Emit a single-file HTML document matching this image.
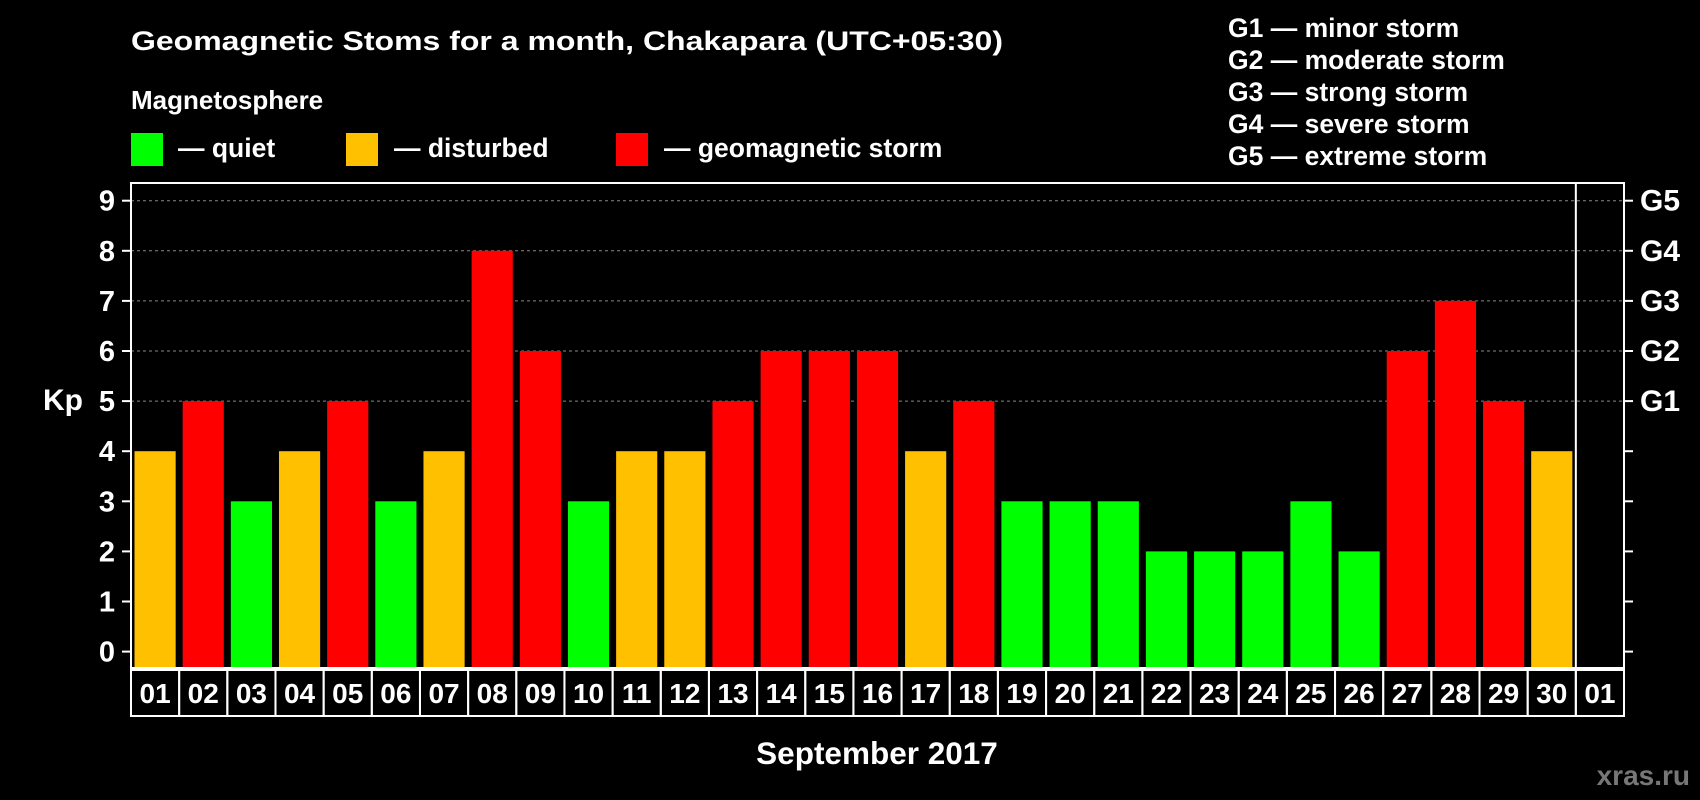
<!DOCTYPE html>
<html><head><meta charset="utf-8"><style>
html,body{margin:0;padding:0;background:#000;}
svg{display:block;font-family:"Liberation Sans",Arial,sans-serif;font-weight:bold;}
</style></head><body>
<svg id="chart" width="1700" height="800" xmlns="http://www.w3.org/2000/svg">
<rect x="0" y="0" width="1700" height="800" fill="#000"/>
<text x="131" y="50" fill="#fff" font-size="27" textLength="872" lengthAdjust="spacingAndGlyphs">Geomagnetic Stoms for a month, Chakapara (UTC+05:30)</text>
<text x="131" y="109" fill="#fff" font-size="26">Magnetosphere</text>
<rect x="131" y="133" width="32" height="33" fill="#00ff00"/>
<text x="178" y="157" fill="#fff" font-size="26.5">— quiet</text>
<rect x="346" y="133" width="32" height="33" fill="#ffc000"/>
<text x="394" y="157" fill="#fff" font-size="26.5">— disturbed</text>
<rect x="616" y="133" width="32" height="33" fill="#ff0000"/>
<text x="664" y="157" fill="#fff" font-size="26.5">— geomagnetic storm</text>
<g fill="#fff" font-size="26.5">
<text x="1228" y="37">G1 — minor storm</text>
<text x="1228" y="69">G2 — moderate storm</text>
<text x="1228" y="101">G3 — strong storm</text>
<text x="1228" y="133">G4 — severe storm</text>
<text x="1228" y="165">G5 — extreme storm</text>
</g>
<text x="43" y="410" fill="#fff" font-size="30">Kp</text>
<text x="877" y="764" fill="#fff" font-size="31.5" text-anchor="middle">September 2017</text>
<text x="1690" y="785" fill="#777" font-size="28" text-anchor="end">xras.ru</text>
<g id="plot"></g>
</svg>
<script>
const days=["01","02","03","04","05","06","07","08","09","10","11","12","13","14","15","16","17","18","19","20","21","22","23","24","25","26","27","28","29","30","01"];
const kp=[4,5,3,4,5,3,4,8,6,3,4,4,5,6,6,6,4,5,3,3,3,2,2,2,3,2,6,7,5,4];
const yTicks=[0,1,2,3,4,5,6,7,8,9];
const gLabels=["","","","","","G1","G2","G3","G4","G5"];
const L=131,R=1624,T=183,B=668,N=31,cw=(R-L)/N;
const y=v=>651.6-v*50.1;
const x=i=>L+i*cw;
const NS="http://www.w3.org/2000/svg";
const g=document.getElementById('plot');
function mk(tag,attrs){const e=document.createElementNS(NS,tag);for(const k in attrs)e.setAttribute(k,attrs[k]);g.appendChild(e);return e;}
yTicks.forEach(v=>{
  if(v>=5){const l=mk('line',{x1:L,x2:R,y1:y(v),y2:y(v),stroke:'#888','stroke-dasharray':'3,3','stroke-width':1});
  
  }
  const t=mk('text',{x:115,y:y(v)+10,fill:'#fff','font-size':29,'text-anchor':'end'});t.textContent=v;
  
  
  const tk=mk('line',{x1:R,x2:R+9,y1:y(v),y2:y(v),stroke:'#fff','stroke-width':2});
  
  
  const tl=mk('line',{x1:L-9,x2:L,y1:y(v),y2:y(v),stroke:'#fff','stroke-width':2});
  
  
  if(gLabels[v]){const gt=mk('text',{x:1640,y:y(v)+10,fill:'#fff','font-size':30});gt.textContent=gLabels[v];
  
  }
});
kp.forEach((v,i)=>{
  const c=v<=3?'#00ff00':(v==4?'#ffc000':'#ff0000');
  const b=mk('rect',{x:x(i)+3.5,y:y(v),width:cw-7,height:y(0)-y(v)+16,fill:c});
  
  
});
const fr=mk('rect',{x:L,y:T,width:R-L,height:B-T,fill:'none',stroke:'#fff','stroke-width':2});


const sep=mk('line',{x1:x(30),x2:x(30),y1:T,y2:B,stroke:'#fff','stroke-width':2});


days.forEach((d,i)=>{
  const r=mk('rect',{x:x(i),y:670,width:cw,height:46,fill:'none',stroke:'#fff','stroke-width':2});
  
  
  const t=mk('text',{x:x(i)+cw/2,y:703,fill:'#fff','font-size':28,'text-anchor':'middle'});t.textContent=d;
  
  
});
</script>
</body></html>
